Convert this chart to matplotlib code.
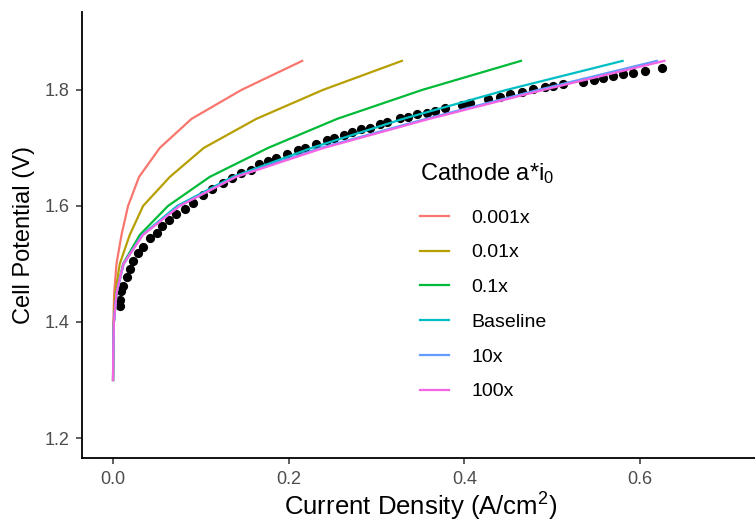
import matplotlib
matplotlib.use("Agg")
import matplotlib.pyplot as plt

## Fonts ###########
plt.rcParams['font.family'] = ['Liberation Sans', 'DejaVu Sans']
plt.rcParams['mathtext.fontset'] = 'custom'
plt.rcParams['mathtext.rm'] = 'Liberation Sans'
plt.rcParams['mathtext.it'] = 'Liberation Sans'

## Data ###########
volts = [1.30, 1.35, 1.40, 1.45, 1.50, 1.55, 1.60, 1.65, 1.70, 1.75, 1.80, 1.85]

i_0001x = [0, 0.0001, 0.0004, 0.0013, 0.0039, 0.0096, 0.0171, 0.0296, 0.0532, 0.0893, 0.1462, 0.2153]
i_001x = [0, 0.0002, 0.0008, 0.0025, 0.0076, 0.019, 0.0342, 0.0646, 0.1033, 0.163, 0.239, 0.3288]
i_01x = [0, 0.0003, 0.001, 0.004, 0.0114, 0.0304, 0.0626, 0.110, 0.1765, 0.255, 0.352, 0.4643]
i_base = [0, 0.0003, 0.001, 0.004, 0.012, 0.033, 0.073, 0.136, 0.226, 0.33, 0.448, 0.580]
i_10x = [0, 0.0003, 0.001, 0.004, 0.0118, 0.0335, 0.0755, 0.139, 0.236, 0.356, 0.484, 0.619]
i_100x = [0, 0.0003, 0.001, 0.004, 0.0118, 0.034, 0.076, 0.140, 0.24, 0.36, 0.49, 0.6276]

labels = ['0.001x', '0.01x', '0.1x', 'Baseline', '10x', '100x']
colors = ['#F8766D', '#B79F00', '#00BA38', '#00BFC4', '#619CFF', '#F564E3']

# measured polarization data
exp_i = [0.0076, 0.0084, 0.0095, 0.0114, 0.016, 0.019, 0.0228, 0.0285, 0.034, 0.0418,
         0.050, 0.056, 0.064, 0.072, 0.0817, 0.091, 0.1025, 0.113, 0.1246, 0.135,
         0.146, 0.1565, 0.166, 0.1765, 0.186, 0.198, 0.211, 0.219, 0.231, 0.243,
         0.252, 0.263, 0.272, 0.282, 0.292, 0.304, 0.312, 0.327, 0.336, 0.346,
         0.357, 0.366, 0.378, 0.397, 0.406, 0.427, 0.440, 0.452, 0.465, 0.478,
         0.492, 0.501, 0.5125, 0.535, 0.547, 0.558, 0.569, 0.581, 0.592, 0.606, 0.6245]
exp_v = [1.427, 1.4385, 1.453, 1.462, 1.478, 1.491, 1.505, 1.519, 1.530, 1.545,
         1.554, 1.566, 1.576, 1.586, 1.595, 1.605, 1.619, 1.629, 1.639, 1.648,
         1.656, 1.662, 1.6725, 1.678, 1.682, 1.690, 1.697, 1.700, 1.707, 1.714,
         1.717, 1.722, 1.727, 1.733, 1.734, 1.741, 1.745, 1.751, 1.754, 1.758,
         1.761, 1.764, 1.768, 1.774, 1.778, 1.784, 1.788, 1.7925, 1.797, 1.801,
         1.805, 1.807, 1.810, 1.814, 1.817, 1.820, 1.824, 1.827, 1.829, 1.833, 1.837]

series = [i_0001x, i_001x, i_01x, i_base, i_10x, i_100x]

## Set up Chart ###########
fig = plt.figure(figsize=(7.55, 5.25), dpi=100)
ax = fig.add_axes([0.109, 0.127, 0.896, 0.851])

ax.scatter(exp_i, exp_v, s=44, color='black', zorder=2, linewidths=0)
for cur, lab, col in zip(series, labels, colors):
    ax.plot(cur, volts, color=col, lw=1.6, label=lab, zorder=3)

ax.set_xlim(-0.035, 0.735)
ax.set_ylim(1.165, 1.935)
ax.set_xticks([0.0, 0.2, 0.4, 0.6])
ax.set_yticks([1.2, 1.4, 1.6, 1.8])
ax.set_xticklabels(['0.0', '0.2', '0.4', '0.6'])
ax.set_yticklabels(['1.2', '1.4', '1.6', '1.8'])

for s in ['top', 'right']:
    ax.spines[s].set_visible(False)
for s in ['left', 'bottom']:
    ax.spines[s].set_linewidth(1.3)
ax.tick_params(direction='out', length=4, width=1.1, color='#333333',
               labelcolor='#4D4D4D', labelsize=13, pad=5)

ax.set_xlabel('Current Density (A/cm$^{\\mathregular{2}}$)', fontsize=18.5, labelpad=2)
ax.set_ylabel('Cell Potential (V)', fontsize=17, labelpad=7)

leg = ax.legend(title='Cathode a*i$_{\\mathregular{0}}$', loc='upper left',
                bbox_to_anchor=(0.556, 0.694), bbox_transform=fig.transFigure,
                frameon=False, fontsize=14, title_fontsize=17, handlelength=1.5,
                handletextpad=1.15, labelspacing=0.88, borderpad=0, borderaxespad=0,
                alignment='left')
leg._legend_box.sep = 17

fig.savefig('out.png', dpi=100)
